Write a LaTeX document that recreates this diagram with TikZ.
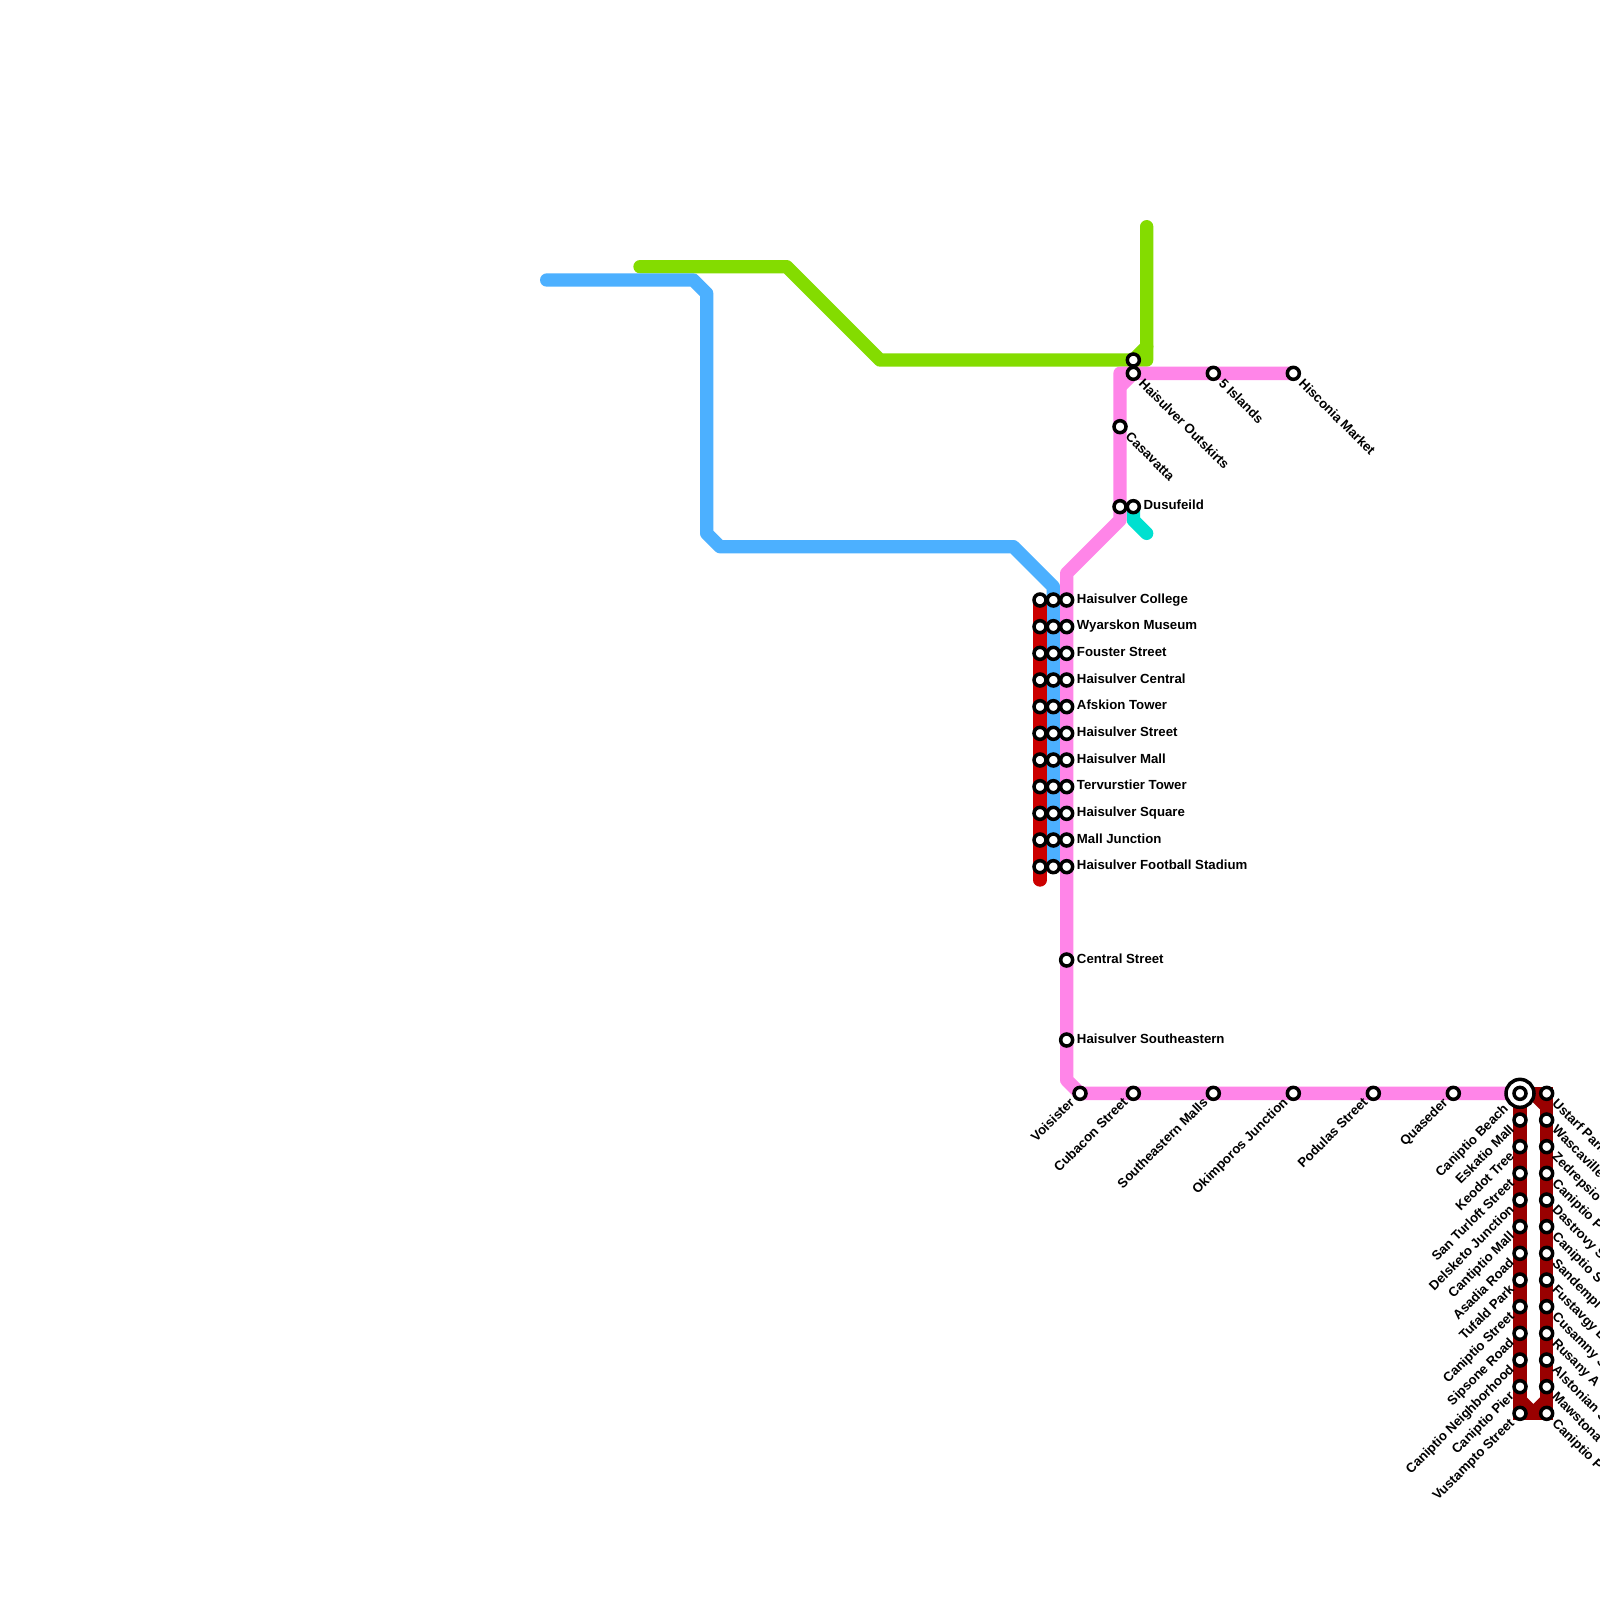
\documentclass[tikz,border=0pt]{standalone}
\usepackage{fontspec}
\setmainfont{Liberation Sans}
\definecolor{cpink}{HTML}{FF85E8}
\definecolor{cblue}{HTML}{4CB0FF}
\definecolor{cgreen}{HTML}{84DC00}
\definecolor{cteal}{HTML}{00E0D0}
\definecolor{cred}{HTML}{CC0000}
\definecolor{cdark}{HTML}{990000}
\tikzset{
  metro/.style={line width=0.13333cm,line cap=round,line join=round},
  darkline/.style={line width=0.13333cm,line cap=square,line join=miter,draw=cdark},
  darkfill/.style={line width=0.13333cm,draw=cdark,line join=bevel,line cap=butt},
  stn/.style={circle,draw=black,fill=white,inner sep=0pt,minimum size=0.12cm,line width=0.035cm},
  bigstn/.style={circle,draw=black,fill=white,inner sep=0pt,minimum size=0.28cm,line width=0.035cm},
  lab/.style={font=\fontsize{3.76}{4.5}\selectfont\bfseries,text=black,inner sep=0pt,text height=2.71pt,text depth=0pt},
  labE/.style={lab,anchor=west},
  labSE/.style={lab,anchor=west,rotate=-45},
  labSW/.style={lab,anchor=east,rotate=45},
}
\begin{document}
\begin{tikzpicture}[x=0.133333cm,y=-0.133333cm]
\clip (0,0) rectangle (120,120);
\useasboundingbox (0,0) rectangle (120,120);
\fill[white] (0,0) rectangle (120,120);
% line vertices
\coordinate (g1) at (48,20); \coordinate (g2) at (59,20); \coordinate (g3) at (66,27);
\coordinate (g4) at (85,27); \coordinate (g5) at (86,27); \coordinate (g6) at (86,26); \coordinate (g7) at (86,17);
\coordinate (b1) at (41,21); \coordinate (b2) at (52,21); \coordinate (b3) at (53,22); \coordinate (b4) at (53,40);
\coordinate (b5) at (54,41); \coordinate (b6) at (76,41); \coordinate (b7) at (79,44); \coordinate (b8) at (79,65);
\coordinate (r1) at (78,45); \coordinate (r2) at (78,66);
\coordinate (p1) at (97,28); \coordinate (p2) at (85,28); \coordinate (p3) at (84,28); \coordinate (p4) at (84,29);
\coordinate (p5) at (84,39); \coordinate (p6) at (80,43); \coordinate (p7) at (80,81); \coordinate (p8) at (81,82);
\coordinate (p9) at (114,82);
\coordinate (t1) at (85,38); \coordinate (t2) at (85,39); \coordinate (t3) at (86,40);
\coordinate (d1) at (114,82); \coordinate (d2) at (116,82); \coordinate (d3) at (114,106); \coordinate (d4) at (116,106);
\coordinate (d5) at (115,82); \coordinate (d6) at (116,83);
\coordinate (d7) at (114,105); \coordinate (d8) at (115,106); \coordinate (d9) at (116,105);
% lines
\draw[metro,cgreen] (g1)--(g2)--(g3)--(g5)--(g7);
\draw[metro,cgreen] (g4)--(g6);
\draw[metro,cteal] (t1)--(t2)--(t3);
\draw[metro,cblue] (b1)--(b2)--(b3)--(b4)--(b5)--(b6)--(b7)--(b8);
\draw[metro,cred] (r1)--(r2);
\draw[metro,cpink] (p1)--(p3)--(p5)--(p6)--(p7)--(p8)--(p9);
\draw[metro,cpink,line cap=butt] (p2)--(p4);
\draw[darkline] (d1)--(d2)--(d4)--(d3)--cycle;
\draw[darkfill] (d5)--(d6);
\draw[darkfill] (d7)--(d8)--(d9);
% central triple column
\foreach \k/\t [count=\i] in {45/Haisulver College,47/Wyarskon Museum,49/Fouster Street,51/Haisulver Central,53/Afskion Tower,55/Haisulver Street,57/Haisulver Mall,59/Tervurstier Tower,61/Haisulver Square,63/Mall Junction,65/Haisulver Football Stadium}{
  \node[stn] (ca\i) at (78,\k) {};
  \node[stn] (cb\i) at (79,\k) {};
  \node[stn] (cc\i) at (80,\k) {};
  \node[labE] (lc\i) at ([shift={(0.72,-0.12)}]cc\i.center) {\t};
}
\foreach \y/\t [count=\i] in {72/Central Street,78/Haisulver Southeastern}{
  \node[stn] (s\i) at (80,\y) {};
  \node[labE] (ls\i) at ([shift={(0.72,-0.12)}]s\i.center) {\t};
}
\node[stn] (dus) at (85,38) {};
\node[labE] (ldus) at ([shift={(0.72,-0.12)}]dus.center) {Dusufeild};
\node[stn] (cas) at (84,38) {};
% upper right
\node[stn] (gs) at (85,27) {};
\foreach \x/\y/\t [count=\i] in {85/28/Haisulver Outskirts,91/28/5 Islands,97/28/Hisconia Market,84/32/Casavatta}{
  \node[stn] (u\i) at (\x,\y) {};
  \node[labSE] (lu\i) at ([shift={(0.58,0.53)}]u\i.center) {\t};
}
% bottom row
\foreach \x/\t [count=\i] in {81/Voisister,85/Cubacon Street,91/Southeastern Malls,97/Okimporos Junction,103/Podulas Street,109/Quaseder}{
  \node[stn] (b\i s) at (\x,82) {};
  \node[labSW] (lb\i) at ([shift={(-0.58,0.47)}]b\i s.center) {\t};
}
% Caniptio Beach
\node[bigstn] (big) at (114,82) {};
\node[stn] (bigi) at (114,82) {};
\node[labSW] (lbig) at ([shift={(-1.05,0.95)}]big.center) {Caniptio Beach};
% left column
\foreach \y/\t [count=\i] in {84/Eskatio Mall,86/Keodot Tree,88/San Turloft Street,90/Delsketo Junction,92/Cantiptio Mall,94/Asadia Road,96/Tufald Park,98/Caniptio Street,100/Sipsone Road,102/Caniptio Neighborhood,104/Caniptio Pier,106/Vustampto Street}{
  \node[stn] (l\i) at (114,\y) {};
  \node[labSW] (ll\i) at ([shift={(-0.6,0.5)}]l\i.center) {\t};
}
% right column
\foreach \y/\t [count=\i] in {82/Ustarf Park,84/Wascaville,86/Zedrepsio,88/Caniptio P,90/Dastrovy S,92/Caniptio S,94/Sandempl,96/Fustavgy B,98/Cusamny S,100/Rusany A,102/Alstonian S,104/Mawstona,106/Caniptio P}{
  \node[stn] (q\i) at (116,\y) {};
  \node[labSE] (lq\i) at ([shift={(0.58,0.53)}]q\i.center) {\t};
}
\end{tikzpicture}
\end{document}
